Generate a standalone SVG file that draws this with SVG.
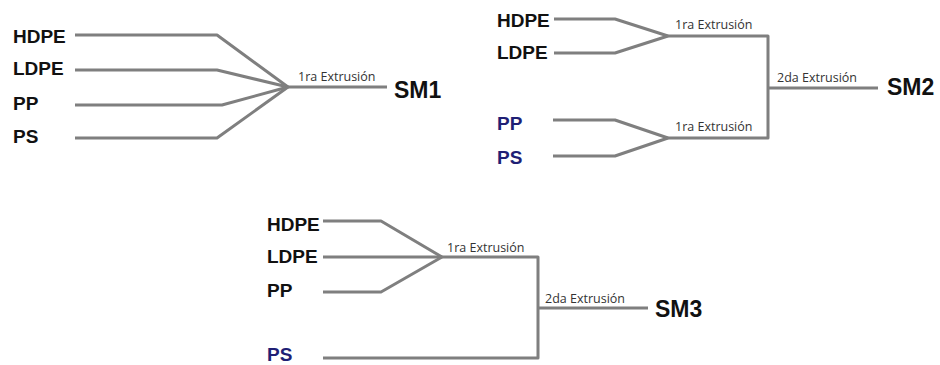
<svg xmlns="http://www.w3.org/2000/svg" width="940" height="365" viewBox="0 0 940 365">
  <style>
    .wire { fill: none; stroke: #7f7f7f; stroke-width: 3; stroke-linejoin: round; }
    .mat { font-family: "Liberation Sans", Arial, sans-serif; font-weight: bold; font-size: 19px; fill: #111; }
    .mat.blue { fill: #1f1f75; }
    .out { font-family: "Liberation Sans", Arial, sans-serif; font-weight: bold; font-size: 23px; fill: #111; }
    .step { font-family: "Open Sans", "Liberation Sans", sans-serif; font-size: 12.5px; fill: #333; }
  </style>
  <rect width="940" height="365" fill="#ffffff"/>

  <!-- Mix SM1: single extrusion of all four -->
  <g id="sm1-inputs">
    <text class="mat" x="13" y="43">HDPE</text>
    <text class="mat" x="13" y="75">LDPE</text>
    <text class="mat" x="13" y="110">PP</text>
    <text class="mat" x="13" y="143">PS</text>
  </g>
  <g id="sm1-step"><text class="step" x="298" y="81">1ra Extrusión</text></g>
  <g id="sm1-out"><text class="out" x="394" y="98">SM1</text></g>

  <!-- Mix SM2: two first extrusions joined in a second -->
  <g id="sm2-inputs">
    <text class="mat" x="497" y="27">HDPE</text>
    <text class="mat" x="497" y="59">LDPE</text>
    <text class="mat blue" x="497" y="130">PP</text>
    <text class="mat blue" x="497" y="164">PS</text>
  </g>
  <g id="sm2-step1a"><text class="step" x="675" y="29">1ra Extrusión</text></g>
  <g id="sm2-step1b"><text class="step" x="675" y="131">1ra Extrusión</text></g>
  <g id="sm2-step2"><text class="step" x="777" y="82">2da Extrusión</text></g>
  <g id="sm2-out"><text class="out" x="887" y="95">SM2</text></g>

  <!-- Mix SM3: three-way first extrusion, PS added in the second -->
  <g id="sm3-inputs">
    <text class="mat" x="267" y="231">HDPE</text>
    <text class="mat" x="267" y="263">LDPE</text>
    <text class="mat" x="267" y="297">PP</text>
    <text class="mat blue" x="267" y="361">PS</text>
  </g>
  <g id="sm3-step1"><text class="step" x="447" y="252">1ra Extrusión</text></g>
  <g id="sm3-step2"><text class="step" x="545" y="303">2da Extrusión</text></g>
  <g id="sm3-out"><text class="out" x="655" y="317">SM3</text></g>

  <g id="connectors">
    <!-- SM1 -->
    <polyline class="wire" points="75,35 217,35 288,87"/>
    <polyline class="wire" points="75,70 217,70 288,87"/>
    <polyline class="wire" points="75,105 222,105 288,87"/>
    <polyline class="wire" points="75,138 217,138 288,87"/>
    <line class="wire" x1="288" y1="87" x2="387" y2="87"/>
    <!-- SM2 -->
    <polyline class="wire" points="554,19 615,19 668,36"/>
    <polyline class="wire" points="554,53 615,53 668,36"/>
    <polyline class="wire" points="553,120 615,120 668,138"/>
    <polyline class="wire" points="553,156 615,156 668,138"/>
    <polyline class="wire" points="668,36 768,36 768,138 668,138"/>
    <line class="wire" x1="768" y1="88" x2="878" y2="88"/>
    <!-- SM3 -->
    <polyline class="wire" points="323,221 381,221 442,257"/>
    <line class="wire" x1="323" y1="257" x2="442" y2="257"/>
    <polyline class="wire" points="323,292 381,292 442,257"/>
    <polyline class="wire" points="442,257 538,257 538,358 323,358"/>
    <line class="wire" x1="538" y1="308" x2="648" y2="308"/>
  </g>
</svg>
